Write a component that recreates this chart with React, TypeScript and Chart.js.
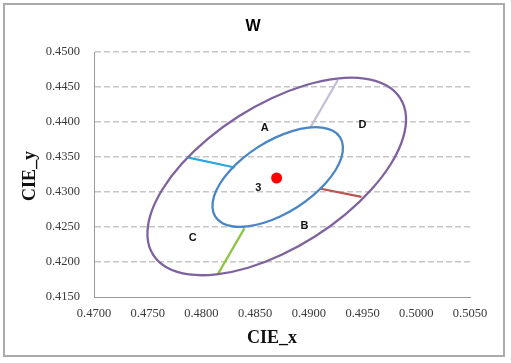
import React, { useEffect, useRef } from "react";
import { Chart, registerables } from "chart.js";

Chart.register(...registerables);

const titleText = "W";
const xAxisTitle = "CIE_x";
const yAxisTitle = "CIE_y";

const xMin = 0.47;
const xMax = 0.505;
const yMin = 0.415;
const yMax = 0.45;
const xTickValues = [0.47, 0.475, 0.48, 0.485, 0.49, 0.495, 0.5, 0.505];
const yTickValues = [0.415, 0.42, 0.425, 0.43, 0.435, 0.44, 0.445, 0.45];

// outer (purple) ellipse, read around the curve
const outerX = [0.4985, 0.49904, 0.49875, 0.49766, 0.49584, 0.49343, 0.49057, 0.48747, 0.48435, 0.4814, 0.47883, 0.47682, 0.47551, 0.47498, 0.47527, 0.47636, 0.47817, 0.48059, 0.48344, 0.48654, 0.48967, 0.49261, 0.49518, 0.49719];
const outerY = [0.44342, 0.44082, 0.43763, 0.43407, 0.43039, 0.42683, 0.42364, 0.42103, 0.41918, 0.41823, 0.41822, 0.41917, 0.42101, 0.42361, 0.4268, 0.43036, 0.43404, 0.4376, 0.44079, 0.4434, 0.44525, 0.4462, 0.44621, 0.44526];

// inner (blue) ellipse
const innerX = [0.49291, 0.49317, 0.49303, 0.49248, 0.49156, 0.49034, 0.4889, 0.48733, 0.48575, 0.48426, 0.48297, 0.48196, 0.48129, 0.48103, 0.48117, 0.48172, 0.48264, 0.48386, 0.4853, 0.48687, 0.48845, 0.48994, 0.49123, 0.49224];
const innerY = [0.43782, 0.43651, 0.4349, 0.43311, 0.43125, 0.42945, 0.42783, 0.42651, 0.42557, 0.42509, 0.42507, 0.42555, 0.42647, 0.42778, 0.42938, 0.43118, 0.43304, 0.43484, 0.43645, 0.43777, 0.43871, 0.4392, 0.43921, 0.43874];

// center point
const centerX = [0.487];
const centerY = [0.432];

// dividing segments between the two ellipses
const cyanX = [0.4788, 0.4831];
const cyanY = [0.4349, 0.4335];
const lavenderX = [0.4901, 0.4927];
const lavenderY = [0.4391, 0.446];
const redX = [0.491, 0.4949];
const redY = [0.4305, 0.4293];
const greenX = [0.484, 0.4815];
const greenY = [0.4248, 0.4182];

// region labels
const regionLabels = ["A", "B", "C", "D", "3"];
const regionX = [0.4859, 0.4896, 0.4792, 0.495, 0.4853];
const regionY = [0.4391, 0.4252, 0.4234, 0.4396, 0.4306];

const pts = (xs: number[], ys: number[]) => xs.map((x, i) => ({ x, y: ys[i] }));
// closed loop: last point, all points, then first two again (the two end pieces are hidden)
const loop = (xs: number[], ys: number[]) => {
  const p = pts(xs, ys);
  return [p[p.length - 1], ...p, p[0], p[1]];
};
const loopSegment = (color: string, n: number) => ({
  borderColor: (c: any) =>
    c.p0DataIndex === 0 || c.p1DataIndex === n + 2 ? "rgba(0,0,0,0)" : color,
});

const decorPlugin = {
  id: "decor",
  beforeDraw(chart: any) {
    const ctx = chart.ctx;
    ctx.save();
    ctx.fillStyle = "#ffffff";
    ctx.fillRect(0, 0, chart.width, chart.height);
    ctx.restore();
  },
  afterDatasetsDraw(chart: any) {
    const ctx = chart.ctx;
    const xs = chart.scales.x;
    const ys = chart.scales.y;
    ctx.save();
    ctx.fillStyle = "#111111";
    ctx.font = "bold 11px 'Liberation Sans', Arial, sans-serif";
    ctx.textAlign = "center";
    ctx.textBaseline = "middle";
    regionLabels.forEach((t, i) => {
      ctx.fillText(t, xs.getPixelForValue(regionX[i]), ys.getPixelForValue(regionY[i]));
    });
    ctx.restore();
  },
  afterDraw(chart: any) {
    const ctx = chart.ctx;
    ctx.save();
    ctx.fillStyle = "#000000";
    ctx.font = "bold 16px 'Liberation Sans', Arial, sans-serif";
    ctx.textAlign = "center";
    ctx.textBaseline = "alphabetic";
    ctx.fillText(titleText, 253, 31);
    ctx.fillStyle = "#111111";
    ctx.font = "bold 18px 'Liberation Serif', 'Times New Roman', serif";
    ctx.fillText(xAxisTitle, 272, 343);
    ctx.save();
    ctx.translate(35, 176);
    ctx.rotate(-Math.PI / 2);
    ctx.fillText(yAxisTitle, 0, 0);
    ctx.restore();
    ctx.strokeStyle = "#ababab";
    ctx.lineWidth = 2;
    ctx.strokeRect(4, 4, 500, 352);
    ctx.restore();
  },
};

export default function App() {
  const canvasRef = useRef<HTMLCanvasElement | null>(null);

  useEffect(() => {
    const canvas = canvasRef.current;
    if (!canvas) return;
    const tickFont = { family: "'Liberation Serif', 'Times New Roman', serif", size: 12.5 };
    const innerColor = "#4a85c6";
    const outerColor = "#7e62a0";
    const chart = new Chart(canvas, {
      type: "scatter",
      data: {
        datasets: [
          {
            label: "center",
            data: pts(centerX, centerY),
            pointRadius: 5.5,
            pointBackgroundColor: "#ff0000",
            pointBorderColor: "#ff0000",
            pointBorderWidth: 0,
            showLine: false,
            order: 0,
          },
          {
            label: "inner",
            data: loop(innerX, innerY),
            showLine: true,
            borderColor: innerColor,
            segment: loopSegment(innerColor, innerX.length),
            borderWidth: 2.3,
            pointRadius: 0,
            tension: 0.34,
            fill: false,
            order: 1,
          },
          {
            label: "outer",
            data: loop(outerX, outerY),
            showLine: true,
            borderColor: outerColor,
            segment: loopSegment(outerColor, outerX.length),
            borderWidth: 2.3,
            pointRadius: 0,
            tension: 0.34,
            fill: false,
            order: 2,
          },
          {
            label: "cyan",
            data: pts(cyanX, cyanY),
            showLine: true,
            borderColor: "#27a8e0",
            borderWidth: 2.2,
            pointRadius: 0,
            order: 3,
          },
          {
            label: "lavender",
            data: pts(lavenderX, lavenderY),
            showLine: true,
            borderColor: "#c3bdd8",
            borderWidth: 2.2,
            pointRadius: 0,
            order: 3,
          },
          {
            label: "red",
            data: pts(redX, redY),
            showLine: true,
            borderColor: "#b9544f",
            borderWidth: 2.2,
            pointRadius: 0,
            order: 3,
          },
          {
            label: "green",
            data: pts(greenX, greenY),
            showLine: true,
            borderColor: "#8cc540",
            borderWidth: 2.2,
            pointRadius: 0,
            order: 3,
          },
        ],
      },
      options: {
        animation: false,
        responsive: false,
        events: [],
        layout: { padding: { left: 0, right: 41, top: 52, bottom: 0 } },
        plugins: {
          legend: { display: false },
          tooltip: { enabled: false },
          title: { display: false },
        },
        scales: {
          x: {
            type: "linear",
            position: "bottom",
            min: xMin,
            max: xMax,
            afterBuildTicks: (s: any) => {
              s.ticks = xTickValues.map((v) => ({ value: v }));
            },
            afterFit: (s: any) => {
              s.height = 66;
            },
            ticks: {
              font: tickFont,
              color: "#3a3a3a",
              padding: 9,
              maxRotation: 0,
              autoSkip: false,
              callback: (v: any) => Number(v).toFixed(4),
            },
            grid: { display: false, drawTicks: false },
            border: { display: true, color: "#9a9a9a", width: 1 },
          },
          y: {
            type: "linear",
            min: yMin,
            max: yMax,
            afterBuildTicks: (s: any) => {
              s.ticks = yTickValues.map((v) => ({ value: v }));
            },
            afterFit: (s: any) => {
              s.width = 94;
            },
            ticks: {
              font: tickFont,
              color: "#3a3a3a",
              padding: 14,
              autoSkip: false,
              callback: (v: any) => Number(v).toFixed(4),
            },
            grid: {
              display: true,
              drawTicks: false,
              lineWidth: 1.4,
              color: (c: any) => (c.tick && c.tick.value <= yMin + 1e-6 ? "rgba(0,0,0,0)" : "#c6c6c6"),
            },
            border: { display: true, color: "#9a9a9a", width: 1, dash: [6, 3] },
          },
        },
      },
      plugins: [decorPlugin],
    } as any);
    return () => chart.destroy();
  }, []);

  return (
    <div style={{ position: "absolute", left: 0, top: 0, width: 511, height: 363, background: "#fff" }}>
      <canvas ref={canvasRef} width={511} height={363} style={{ display: "block" }} />
    </div>
  );
}
